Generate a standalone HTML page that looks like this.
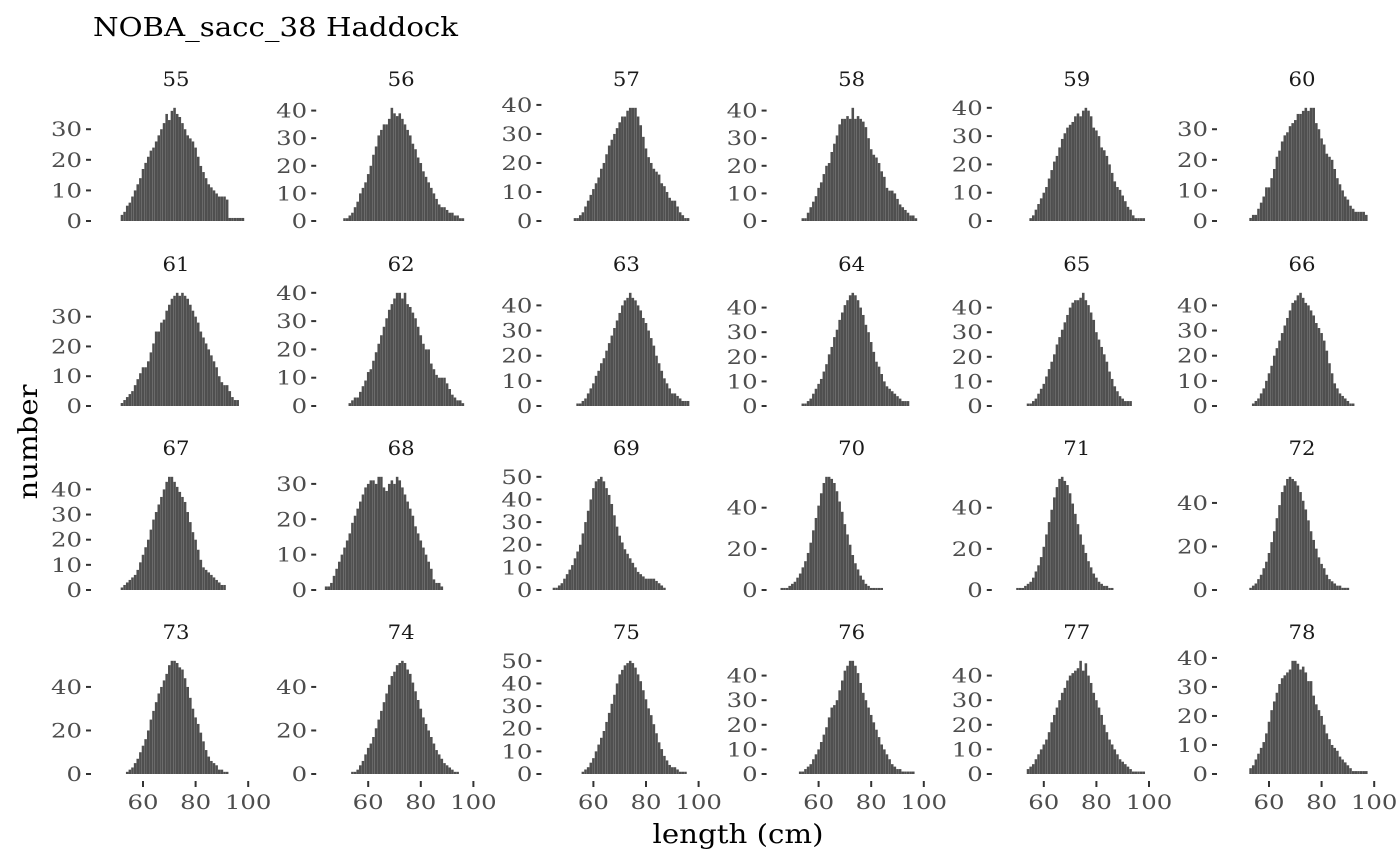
<!DOCTYPE html>
<html><head><meta charset="utf-8"><style>
html,body{margin:0;padding:0;background:#fff}
svg{display:block;font-family:"DejaVu Serif","Liberation Serif",serif}
</style></head><body>
<svg id="chart" width="1400" height="865" viewBox="0 0 1400 865" xmlns="http://www.w3.org/2000/svg">
<rect width="1400" height="865" fill="#fff"/>
<text x="93" y="36" font-size="26" textLength="365" lengthAdjust="spacingAndGlyphs" fill="#000">NOBA_sacc_38 Haddock</text>
<text transform="translate(37,442) rotate(-90)" text-anchor="middle" font-size="26" textLength="115" lengthAdjust="spacingAndGlyphs" fill="#000">number</text>
<text x="738" y="843" text-anchor="middle" font-size="26" textLength="171" lengthAdjust="spacingAndGlyphs" fill="#000">length (cm)</text>
<g id="panels"></g>
</svg>
<script>
const facetLabels = ["55","56","57","58","59","60","61","62","63","64","65","66","67","68","69","70","71","72","73","74","75","76","77","78"];
const startLengths = [52,51,53,54,55,53,52,53,54,54,54,54,52,44,45,46,50,53,54,54,56,53,54,53];
const c55 = [2,3,5,6,8,10,12,14,17,19,21,23,24,26,28,30,32,35,33,36,37,35,34,32,30,28,27,26,24,21,18,16,14,12,11,10,9,8,8,8,7,1,1,1,1,1,1];
const c56 = [1,1,2,3,5,7,10,12,14,17,20,24,27,31,33,35,35,37,41,39,38,39,37,35,33,31,28,26,23,21,18,16,14,12,10,8,6,5,5,4,3,3,2,2,1,1];
const c57 = [1,1,2,3,5,7,9,11,13,15,18,20,23,26,28,30,32,34,36,36,38,39,39,39,36,33,29,25,22,20,18,17,16,13,12,10,8,7,7,5,3,2,1,1];
const c58 = [1,1,3,5,7,9,12,14,17,20,21,25,28,31,35,37,37,38,37,41,37,38,37,36,34,30,26,24,23,21,18,16,12,11,11,10,8,6,5,4,3,2,2,1];
const c59 = [1,2,4,6,8,10,12,15,18,21,23,26,29,31,33,34,35,37,38,37,39,40,39,37,33,32,30,26,25,23,20,17,14,12,11,9,7,5,4,2,1,1,1,1];
const c60 = [1,2,2,4,6,8,11,11,14,17,21,23,26,28,29,31,32,33,35,35,36,37,36,37,37,32,30,27,25,22,21,20,17,14,12,10,8,7,5,4,3,3,3,3,2];
const c61 = [1,2,3,4,5,7,9,11,13,13,15,18,21,25,25,28,29,32,34,36,37,38,37,38,37,36,34,32,30,28,25,23,21,19,17,15,13,10,8,7,7,5,3,2,2];
const c62 = [1,2,3,3,5,7,9,12,13,16,19,22,25,28,31,34,36,38,40,40,38,40,36,35,33,31,28,25,22,20,20,15,13,11,10,10,10,8,6,4,3,2,2,1];
const c63 = [1,1,2,3,5,7,9,12,14,17,19,22,25,28,31,34,37,40,42,43,45,43,42,40,38,35,33,30,27,24,20,17,14,11,9,7,5,5,4,3,2,2,2];
const c64 = [1,1,2,3,5,7,9,11,14,17,21,24,28,31,35,38,41,43,45,46,45,43,40,37,33,30,26,22,18,16,13,10,8,7,6,5,4,3,2,2,2];
const c65 = [1,1,2,3,5,7,9,12,15,18,21,25,28,31,34,37,40,42,43,43,44,46,43,41,38,35,30,27,24,21,18,14,11,8,6,4,3,2,2,2];
const c66 = [1,2,3,5,7,10,13,16,20,23,26,29,32,35,38,41,42,44,45,43,41,40,38,36,33,31,29,26,22,17,13,9,7,5,4,3,2,1,1];
const c67 = [1,2,3,4,5,6,8,11,14,17,20,24,28,31,34,37,40,43,45,45,43,41,39,37,35,31,27,23,20,16,12,9,8,7,6,5,4,3,2,2];
const c68 = [1,1,2,4,6,8,10,12,14,16,19,21,23,25,27,29,30,31,31,30,32,32,29,28,30,31,30,32,31,29,27,25,23,21,18,16,14,12,10,8,6,3,2,2,1];
const c69 = [1,1,2,3,5,7,9,11,14,17,20,25,30,35,40,45,48,49,50,48,45,42,38,33,28,24,21,18,16,14,12,10,8,7,6,5,5,5,5,4,3,2,1];
const c70 = [1,1,1,2,3,4,6,8,11,14,18,23,29,35,41,47,52,55,55,54,52,48,43,38,32,27,22,17,13,10,7,5,3,2,1,1,1,1,1];
const c71 = [1,1,1,2,3,4,6,9,12,16,21,27,33,39,45,50,54,55,53,51,47,42,37,32,27,22,18,14,11,8,6,4,3,2,2,1,1];
const c72 = [1,2,3,5,7,10,13,17,22,27,33,39,45,48,51,52,51,50,48,45,41,37,32,27,23,19,15,12,10,7,5,4,3,2,2,1,1,1];
const c73 = [1,2,3,5,7,10,13,16,20,25,29,33,37,40,43,46,50,52,52,51,49,48,44,40,35,30,26,23,19,15,11,8,6,5,4,2,2,1,1];
const c74 = [1,1,2,4,6,9,12,14,17,21,25,29,33,37,41,45,47,50,51,52,51,48,46,42,38,34,30,26,23,20,17,14,11,9,7,5,4,3,2,1,1];
const c75 = [1,2,3,5,7,10,13,16,19,23,27,31,35,40,44,46,48,49,50,49,47,44,41,37,33,29,26,22,18,14,11,8,6,4,3,3,2,1,1,1];
const c76 = [1,1,2,3,4,6,8,10,13,16,19,23,27,28,30,34,38,42,44,46,46,44,41,37,33,30,27,24,21,18,15,12,10,8,6,4,3,2,2,1,1,1,1,1];
const c77 = [2,3,4,6,8,10,12,14,17,21,24,27,30,33,35,38,40,41,42,43,46,42,45,40,37,33,30,27,24,20,17,14,12,10,8,6,5,4,3,2,1,1,1,1,1];
const c78 = [2,3,5,7,9,11,14,18,22,25,28,31,33,34,35,36,39,39,38,36,37,35,32,32,27,24,22,20,17,14,12,10,9,8,6,5,4,3,2,1,1,1,1,1,1];
const yTicks = [[0,10,20,30],[0,10,20,30,40],[0,10,20,30,40],[0,10,20,30,40],[0,10,20,30,40],[0,10,20,30],
 [0,10,20,30],[0,10,20,30,40],[0,10,20,30,40],[0,10,20,30,40],[0,10,20,30,40],[0,10,20,30,40],
 [0,10,20,30,40],[0,10,20,30],[0,10,20,30,40,50],[0,20,40],[0,20,40],[0,20,40],
 [0,20,40],[0,20,40],[0,10,20,30,40,50],[0,10,20,30,40],[0,10,20,30,40],[0,10,20,30,40]];
const xTicks = [60,80,100];
const counts = [c55,c56,c57,c58,c59,c60,c61,c62,c63,c64,c65,c66,c67,c68,c69,c70,c71,c72,c73,c74,c75,c76,c77,c78];

const NS = "http://www.w3.org/2000/svg";
const root = document.getElementById("panels");
const zeroY = [221, 406, 590, 774];
const PX_PER_CM = 2.63, COL_W = 225.2, PLOT_H = 124.5;
function mk(tag, attrs){const e=document.createElementNS(NS,tag);for(const k in attrs)e.setAttribute(k,attrs[k]);return e;}
for (let i=0;i<counts.length;i++){
  const c=i%6, r=Math.floor(i/6);
  const x = v => 143 + c*COL_W + (v-60)*PX_PER_CM;
  const data = counts[i];
  const maxV = Math.max(...data);
  const unit = PLOT_H/(1.1*maxV);
  const y = v => zeroY[r] - v*unit;
  const g = mk("g",{});
  
  
  root.appendChild(g);
  const lab = mk("text",{x:176+c*COL_W, y:zeroY[r]-135, "text-anchor":"middle","font-size":"20",fill:"#1a1a1a",textLength:String(facetLabels[i].length*13.5),lengthAdjust:"spacingAndGlyphs"});
  
  
  lab.textContent = facetLabels[i];
  g.appendChild(lab);
  yTicks[i].forEach(t=>{
    const ty = y(t);
    const tk = mk("line",{x1:x(60)-57,x2:x(60)-52,y1:ty,y2:ty,stroke:"#333",'stroke-width':"2"});
    
    
    g.appendChild(tk);
    const s = String(t);
    const tl = mk("text",{x:x(60)-61,y:ty+7,"text-anchor":"end","font-size":"20",fill:"#4d4d4d",textLength:String(s.length*15.5),lengthAdjust:"spacingAndGlyphs"});
    
    
    tl.textContent = s;
    g.appendChild(tl);
  });
  data.forEach((v,j)=>{
    const len = startLengths[i]+j;
    const bw = PX_PER_CM*0.97;
    const b = mk("rect",{x:x(len)-bw/2,y:y(v),width:bw,height:zeroY[r]-y(v),fill:"#4f4f4f"});
    
    
    g.appendChild(b);
  });
  if (r===3){
    xTicks.forEach(t=>{
      const tk = mk("line",{x1:x(t),x2:x(t),y1:781,y2:787,stroke:"#333",'stroke-width':"2"});
      
      
      g.appendChild(tk);
      const s = String(t);
      const tl = mk("text",{x:x(t),y:809,"text-anchor":"middle","font-size":"20",fill:"#4d4d4d",textLength:String(s.length*15.5),lengthAdjust:"spacingAndGlyphs"});
      
      
      tl.textContent = s;
      g.appendChild(tl);
    });
  }
}
</script>
</body></html>
